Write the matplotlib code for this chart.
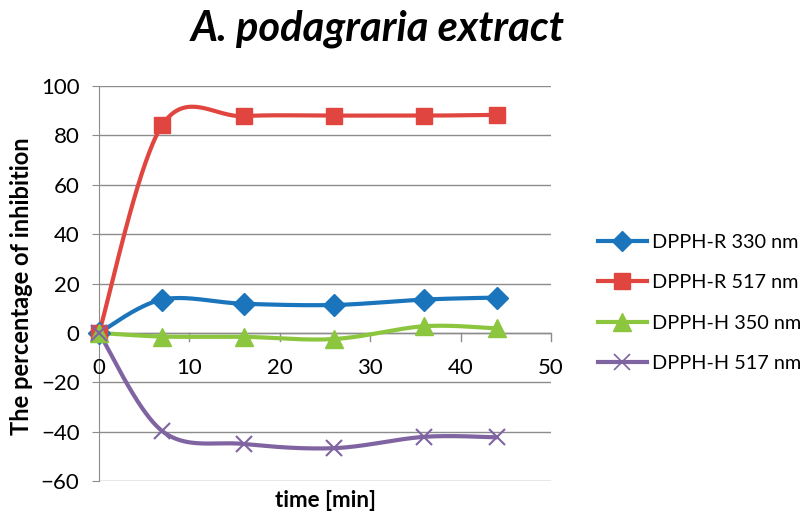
import numpy as np
import matplotlib
matplotlib.use("Agg")
import matplotlib.pyplot as plt
from matplotlib.lines import Line2D

time = [0, 7, 16, 26, 36, 44]
r330 = [0, 13.5, 11.8, 11.3, 13.5, 14.3]
r517 = [0, 84.2, 87.8, 88.0, 88.0, 88.3]
h350 = [0, -1.5, -1.6, -2.5, 2.7, 1.8]
h517 = [0, -39.8, -45.0, -46.7, -42.1, -42.3]
labels = ["DPPH-R 330 nm", "DPPH-R 517 nm", "DPPH-H 350 nm", "DPPH-H 517 nm"]
series = [r330, r517, h350, h517]
colors = ["#1B75BC", "#E0463F", "#8CC63E", "#8064A2"]
markers = ["D", "s", "^", "x"]
msizes = [11, 12, 13.5, 12]

plt.rcParams['font.family'] = ['Lato', 'DejaVu Sans']


def smooth(xs, ys, n=40):
    P = np.column_stack([xs, ys]).astype(float)
    Pe = np.vstack([P[0], P, P[-1]])
    out = []
    t = np.linspace(0, 1, n)[:, None]
    for i in range(len(P) - 1):
        p0 = Pe[i + 1]
        p3 = Pe[i + 2]
        c1 = p0 + (Pe[i + 2] - Pe[i]) / 6
        c2 = p3 - (Pe[i + 3] - Pe[i + 1]) / 6
        seg = ((1 - t) ** 3) * p0 + 3 * ((1 - t) ** 2) * t * c1 + 3 * (1 - t) * t ** 2 * c2 + t ** 3 * p3
        out.append(seg)
    pts = np.vstack(out)
    return pts[:, 0], pts[:, 1]


W, H = 805, 513
fig = plt.figure(figsize=(W / 100, H / 100), dpi=100)
ax = fig.add_axes([99 / W, 1 - 481 / H, (551 - 99) / W, (481 - 86) / H])

ax.set_xlim(0, 50)
ax.set_ylim(-60, 100)
ax.set_yticks(range(-60, 101, 20))
ax.set_xticks(range(0, 51, 10))
ax.yaxis.grid(True, color="#8c8c8c", lw=1)
ax.set_axisbelow(True)
for s in ["top", "right", "bottom"]:
    ax.spines[s].set_visible(False)
ax.spines["left"].set_color("#8c8c8c")

# x-axis line at y = 0
ax.axhline(0, color="#8c8c8c", lw=1, zorder=1)
ax.tick_params(axis="x", length=0, labelsize=16, pad=0)
ax.tick_params(axis="y", length=5, color="#8c8c8c", labelsize=16, pad=9)
for xt in range(0, 51, 10):
    ax.plot([xt, xt], [0, -3.2], color="#8c8c8c", lw=1, clip_on=False, zorder=1)
ax.set_xticklabels([])
for xt in range(0, 51, 10):
    ax.text(xt, -10.0, str(xt), ha="center", va="top", fontsize=16)
ax.set_yticklabels([str(v).replace('-', '\u2212') for v in range(-60, 101, 20)])

for ys, c, m, ms, lab in zip(series, colors, markers, msizes, labels):
    sx, sy = smooth(time, ys)
    ax.plot(sx, sy, color=c, lw=3, zorder=3, solid_capstyle="round")
    if m == "x":
        ax.plot(time, ys, ls="none", marker=m, ms=ms, mew=1.5, color=c, zorder=4, clip_on=False)
    else:
        ax.plot(time, ys, ls="none", marker=m, ms=ms, mec=c, mfc=c, zorder=4, clip_on=False)

fig.text(378 / W, 1 - 41 / H, "A. podagraria extract", ha="center", va="baseline",
         fontsize=30, fontweight="bold", fontstyle="italic")
fig.text(22 / W, 1 - 286 / H, "The percentage of inhibition", rotation=90,
         ha="center", va="center", fontsize=17, fontweight="bold")
fig.text(325 / W, 1 - 507 / H, "time [min]", ha="center", va="baseline",
         fontsize=16, fontweight="bold")

handles = []
for c, m, ms in zip(colors, markers, msizes):
    if m == "x":
        handles.append(Line2D([], [], color=c, lw=3, marker=m, ms=ms, mew=1.2))
    else:
        handles.append(Line2D([], [], color=c, lw=3, marker=m, ms=ms - 1, mec=c, mfc=c))
fig.legend(handles, labels, loc="center left", bbox_to_anchor=(598 / W, 1 - 303 / H),
           frameon=False, fontsize=14.3, handlelength=2.45, labelspacing=1.18,
           handletextpad=0.25, borderpad=0, borderaxespad=0)

fig.savefig("out.png", dpi=100)
